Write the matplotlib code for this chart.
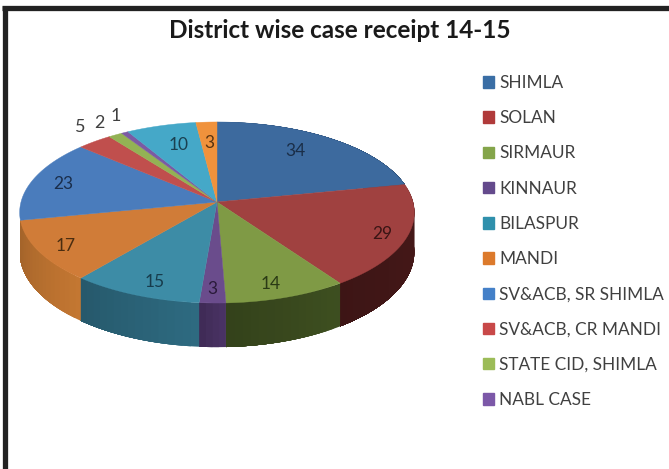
import numpy as np
import matplotlib
matplotlib.use('Agg')
import matplotlib.pyplot as plt
from matplotlib.patches import Patch
from matplotlib.colors import to_rgb

values = [34, 29, 14, 3, 15, 17, 23, 5, 2, 1, 10, 3]
top_colors = ['#3d6a9e', '#a04140', '#7f9a45', '#6a4c8c', '#3d8ca6', '#d07c38',
              '#4a7cbc', '#c04f4d', '#93b254', '#7b5aa3', '#45a8c8', '#f0923c']
wall_colors = ['#2a4a70', '#451818', '#3a4a1e', '#452f5e', '#2b6479', '#b8702f']
label_colors = ['#1a2e48', '#3a1515', '#2a3a15', '#2a1a3a', '#173c4c', '#4a2d10',
                '#1a2e4c', '#404040', '#404040', '#404040', '#1a4050', '#5a3410']
legend_names = ['SHIMLA', 'SOLAN', 'SIRMAUR', 'KINNAUR', 'BILASPUR', 'MANDI',
                'SV&ACB, SR SHIMLA', 'SV&ACB, CR MANDI', 'STATE CID, SHIMLA', 'NABL CASE']
legend_colors = ['#3a6ea5', '#b03a3a', '#84a54a', '#644a8c', '#2f90ac', '#dc7a2c',
                 '#4480c8', '#c84848', '#9cbc58', '#7c58a8']
title = 'District wise case receipt 14-15'

# nudges of the value labels in pixels, away from the default spot in the slice
label_nudge = [(-10, -2), (22, 6), (2, 12), (-1, 13), (-2, 11), (-18, 7),
               (-13, -1), (8, -4), (2, 0), (7, -4), (5, 2), (1, 3)]

cx, cy = 217, 202
a, b, k = 196, 89.3, 0.116
depth = 39


def project(theta):
    u, v = np.sin(theta), np.cos(theta)
    w = 1 + k * v
    return cx + a * u / w, cy - b * v / w, depth / w


fig = plt.figure(figsize=(6.69, 4.69), dpi=100)
ax = fig.add_axes([0, 0, 1, 1])
ax.set_xlim(0, 669)
ax.set_ylim(469, 0)
ax.axis('off')

edges = np.cumsum([0] + values) / sum(values) * 2 * np.pi

# side wall, strips overlap the next one so no seams show
for i in range(len(wall_colors)):
    t0, t1 = edges[i], edges[i + 1]
    ts = np.linspace(t0, t1, int((t1 - t0) * 25) + 2)
    for j in range(len(ts) - 1):
        part = np.linspace(ts[j], t1, 30)
        xs, ys, ds = project(part)
        frac = (ts[j] - t0) / (t1 - t0)
        col = np.clip(np.array(to_rgb(wall_colors[i])) * (1.06 - 0.18 * frac), 0, 1)
        ax.fill(np.r_[xs, xs[::-1]], np.r_[ys, (ys + ds)[::-1]], color=col, lw=0)

# top face
for i in range(len(values)):
    ts = np.linspace(edges[i], edges[i + 1], 80)
    xs, ys, _ = project(ts)
    ax.fill(np.r_[cx, xs], np.r_[cy, ys], color=top_colors[i], lw=0.3)

# value labels
for i, val in enumerate(values):
    mid = (edges[i] + edges[i + 1]) / 2
    r = 1.2 if val in (5, 2, 1) else 0.76
    u, v = r * np.sin(mid), r * np.cos(mid)
    w = 1 + k * v
    ax.text(cx + a * u / w + label_nudge[i][0], cy - b * v / w + label_nudge[i][1], str(val),
            ha='center', va='center', fontsize=13 if val in (5, 2, 1) else 12.5,
            color=label_colors[i], family='Lato')

ax.text(340, 31, title, ha='center', va='center', fontsize=17.5, fontweight='bold',
        family='Lato', color='#1a1a1a')

handles = [Patch(color=c) for c in legend_colors]
ax.legend(handles, legend_names, loc='upper left', bbox_to_anchor=(483 / 669, 1 - 75 / 469),
          frameon=False, prop={'family': 'Lato', 'size': 12.4}, labelcolor='#404040',
          labelspacing=1.116, handlelength=0.65, handleheight=0.65, handletextpad=0.3,
          borderpad=0, borderaxespad=0)

# outer frame
ax.plot([4.5, 4.5], [469, 6], color='#222222', lw=3.8, solid_capstyle='butt')
ax.plot([2, 669], [8.5, 8.5], color='#222222', lw=3.8, solid_capstyle='butt')

fig.savefig('out.png', dpi=100)
